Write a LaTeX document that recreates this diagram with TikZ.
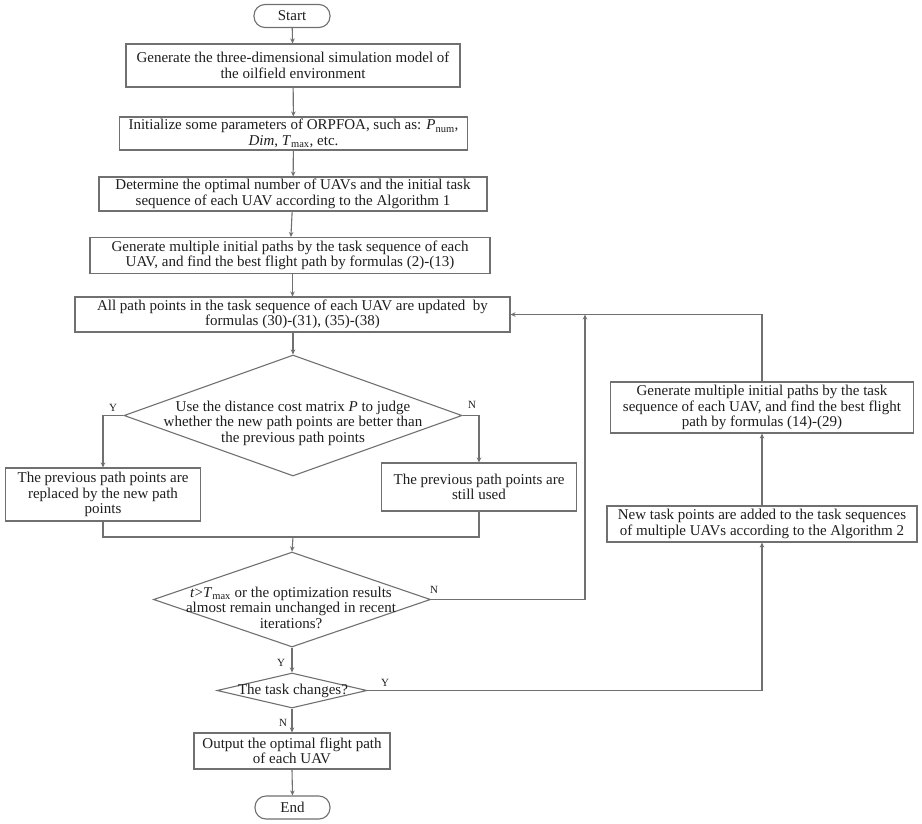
\documentclass[tikz,border=0pt]{standalone}
\usepackage{fontspec}
\setmainfont{Liberation Serif}
\usetikzlibrary{arrows.meta,shapes.geometric}
\definecolor{ln}{HTML}{707070}
\definecolor{tx}{HTML}{1E1E1E}
\begin{document}
\begin{tikzpicture}[x=1pt,y=-1pt,
  every node/.style={text=tx,font=\fontsize{15}{15.5}\selectfont},
  boxst/.style={draw=ln,line width=1.1pt,rectangle,align=center,inner sep=0pt},
  termst/.style={draw=ln,line width=1.1pt,rectangle,rounded corners=11pt,inner sep=0pt},
  decst/.style={draw=ln,line width=1.1pt,diamond,inner sep=0pt},
  lbl/.style={font=\fontsize{11}{12}\selectfont,inner sep=0pt},
  txt/.style={align=center,inner sep=0pt},
  conn/.style={draw=ln,line width=1.1pt,-{Stealth[length=5pt,width=4.5pt]}},
  plain/.style={draw=ln,line width=1.1pt}]
\useasboundingbox (0,0) rectangle (922,823);
\fill[white] (0,0) rectangle (922,823);

\node[termst,minimum width=76pt,minimum height=23pt] (start) at (292,16) {Start};
\node[boxst,minimum width=334pt,minimum height=43pt] (b1) at (293,65.5)
  {Generate the three-dimensional simulation model of\\the oilfield environment};
\node[boxst,minimum width=348pt,minimum height=33pt] (b2) at (293.5,133.5)
  {Initialize some parameters of ORPFOA, such as: \textit{P}\textsubscript{num},\\\textit{Dim}, \textit{T}\textsubscript{max}, etc.};
\node[boxst,minimum width=388pt,minimum height=34pt] (b3) at (293,194)
  {Determine the optimal number of UAVs and the initial task\\sequence of each UAV according to the Algorithm 1};
\node[boxst,minimum width=400pt,minimum height=36pt] (b4) at (290,255.5)
  {Generate multiple initial paths by the task sequence of each\\UAV, and find the best flight path by formulas (2)-(13)};
\node[boxst,minimum width=435pt,minimum height=35pt] (b5) at (292.5,314.5)
  {All path points in the task sequence of each UAV are updated \ by\\formulas (30)-(31), (35)-(38)};

\node[decst,minimum width=338pt,minimum height=121pt] (d1) at (293,415.5) {};
\node[txt] (d1t) at (293,423)
  {Use the distance cost matrix \textit{P} to judge\\whether the new path points are better than\\the previous path points};

\node[boxst,minimum width=195pt,minimum height=53pt] (bl) at (103,494.5)
  {The previous path points are\\replaced by the new path\\points};
\node[boxst,minimum width=195pt,minimum height=48pt] (bm) at (479,487)
  {The previous path points are\\still used};

\coordinate (m) at (293,537);

\node[decst,minimum width=277pt,minimum height=95pt] (d2) at (292,599.5) {};
\node[txt] (d2t) at (291,607.5)
  {\textit{t}>\textit{T}\textsubscript{max} or the optimization results\\almost remain unchanged in recent\\iterations?};

\node[decst,minimum width=150pt,minimum height=35pt] (d3) at (292,690.5) {};
\node[txt] (d3t) at (293,691) {The task changes?};

\node[boxst,minimum width=196pt,minimum height=36pt] (bo) at (292,751)
  {Output the optimal flight path\\of each UAV};
\node[termst,minimum width=75pt,minimum height=23pt] (end) at (292.5,807.5) {End};

\node[boxst,minimum width=303pt,minimum height=51pt] (r1) at (762,407.5)
  {Generate multiple initial paths by the task\\sequence of each UAV, and find the best flight\\path by formulas (14)-(29)};
\node[boxst,minimum width=310pt,minimum height=36pt] (r2) at (762,524)
  {New task points are added to the task sequences\\of multiple UAVs according to the Algorithm 2};

\coordinate (j1) at (585,314.5);

% main flow
\draw[conn] (start) -- (b1);
\draw[conn] (b1) -- (b2);
\draw[conn] (b2) -- (b3);
\draw[conn] (b3) -- (b4);
\draw[conn] (b4.south -| b5.north) -- (b5);
\draw[conn] (b5.south -| d1.north) -- (d1.north);
\draw[conn] (d1.west) -| (bl.north);
\draw[conn] (d1.east) -| (bm.north);
\draw[plain] (bl.south) |- (m);
\draw[plain] (bm.south) |- (m);
\draw[conn] (m) -- (d2.north);
\draw[conn] (d2.south) -- (d3.north);
\draw[conn] (d3.south) -- (bo.north);
\draw[conn] (bo.south) -- (end.north);

% loops
\draw[conn] (d2.east) -| (j1);
\draw[conn] (r1.north) |- (b5.east);
\draw[conn] (d3.east) -| (r2.south);
\draw[conn] (r2.north) -- (r1.south);

% labels
\node[lbl] (ly1) at (113,408) {Y};
\node[lbl] (ln1) at (472,405) {N};
\node[lbl] (ln2) at (434,590) {N};
\node[lbl] (ly2) at (281,663) {Y};
\node[lbl] (ly3) at (385,683) {Y};
\node[lbl] (ln3) at (283,723) {N};
\end{tikzpicture}
\end{document}
